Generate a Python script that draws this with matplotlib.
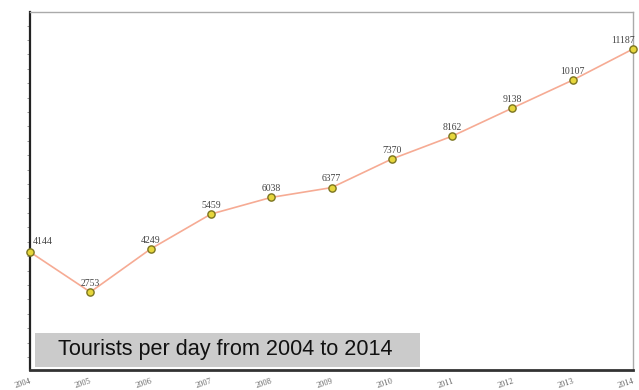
import matplotlib
matplotlib.use("Agg")
import matplotlib.pyplot as plt
from matplotlib.patches import Rectangle

years = [2004, 2005, 2006, 2007, 2008, 2009, 2010, 2011, 2012, 2013, 2014]
tourists = [4144, 2753, 4249, 5459, 6038, 6377, 7370, 8162, 9138, 10107, 11187]
year_labels = [str(y) for y in years]
title_text = "Tourists per day from 2004 to 2014"

fig = plt.figure(figsize=(6.39, 3.90), dpi=100)
ax = fig.add_axes([30/639, 20/390, 603/639, 358/390])

ax.plot(years, tourists, color="#f6ab94", lw=1.2, zorder=2)
ax.plot(years, tourists, ls="none", marker="o", ms=5.2, mfc="#e6d63c",
        mec="#7a7420", mew=1.0, zorder=3, clip_on=False)

for i, (x, v) in enumerate(zip(years, tourists)):
    if i == 0:
        ax.annotate(str(v), (x, v), xytext=(2, 4), textcoords="offset points",
                    ha="left", va="bottom", fontsize=7, family="Liberation Serif",
                    color="#444444")
    elif i == len(years) - 1:
        ax.annotate(str(v), (x, v), xytext=(1, 3), textcoords="offset points",
                    ha="right", va="bottom", fontsize=7, family="Liberation Serif",
                    color="#444444")
    else:
        ax.annotate(str(v), (x, v), xytext=(0, 3), textcoords="offset points",
                    ha="center", va="bottom", fontsize=7, family="Liberation Serif",
                    color="#444444")

ax.set_xlim(2004, 2014)
ax.set_ylim(50, 12470)
ax.set_xticks(years)
ax.set_xticklabels(year_labels, rotation=18, fontsize=6, family="Liberation Serif",
                   color="#666666", ha="right", rotation_mode="anchor")
ax.tick_params(axis="x", length=0, pad=5)
ax.set_yticks(range(500, 12500, 500))
ax.set_yticklabels([])
ax.tick_params(axis="y", length=2.5, width=0.6, color="#888888", direction="out")

ax.spines["left"].set_color("#222222")
ax.spines["left"].set_linewidth(1.6)
ax.spines["bottom"].set_color("#333333")
ax.spines["bottom"].set_linewidth(2.0)
ax.spines["top"].set_color("#aaaaaa")
ax.spines["top"].set_linewidth(1.0)
ax.spines["right"].set_color("#aaaaaa")
ax.spines["right"].set_linewidth(1.0)

# title box in figure pixel coords
box = Rectangle((35/639, (390-367)/390), (420-35)/639, 34/390, transform=fig.transFigure,
                facecolor="#cbcbcb", edgecolor="none", zorder=5)
fig.patches.append(box)
fig.text(58/639, (390-350)/390, title_text, ha="left", va="center", fontsize=15.6,
         family="Liberation Sans", color="#111111", zorder=6)

fig.savefig("out.png", dpi=100)
